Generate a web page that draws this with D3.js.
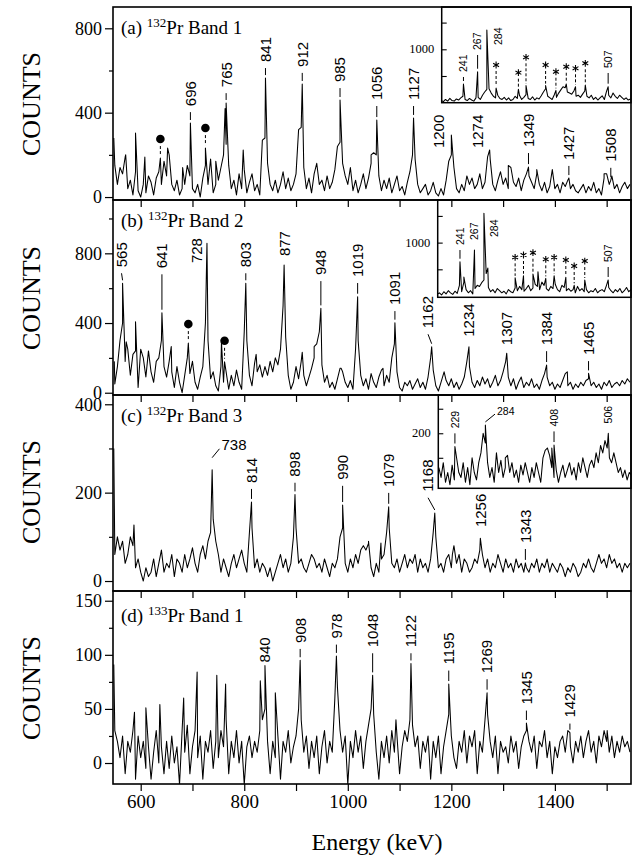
<!DOCTYPE html>
<html>
<head>
<meta charset="utf-8">
<script src="https://cdn.jsdelivr.net/npm/d3@7"></script>
<style>
body { margin: 0; background: #fff; }
</style>
</head>
<body>
<script>
// ---- data ----
var bgStart = 550, bgStep = 5;   // main spectra: one value every 5 keV
var inStart = 200, inStep = 4;   // insets: one value every 4 keV

var panelLetters = ['(a)', '(b)', '(c)', '(d)'];
var massNumbers = ['132', '132', '132', '133'];
var bandNames = ['Band 1', 'Band 2', 'Band 3', 'Band 1'];
var energyTicks = [600, 700, 800, 900, 1000, 1100, 1200, 1300, 1400, 1500];

// background counts, panel (a)
var bgA = [
  150, 60, 140, 110, 190, 40, 80, 10, 120, 30, 0, 60, 20, 100, 70, 10, 90, 120, 60, 170,
  100, 200, 60, 30, 80, 10, 40, 60, 150, 100, 40, 20, 60, 0, 90, 150, 60, 180, 20, 60,
  80, 140, 200, 250, 150, 40, 80, 10, 110, 40, 130, 20, 70, 110, 30, 60, 10, 270, 280, 160,
  60, 30, 80, 20, 60, 120, 40, 90, 30, 60, 110, 320, 330, 140, 40, 90, 20, 110, 160, 60,
  80, 30, 100, 40, 70, 130, 240, 260, 160, 100, 60, 140, 30, 80, 20, 60, 110, 40, 90, 160,
  210, 200, 100, 30, 80, 40, 90, 20, 60, 100, 30, 50, 10, 70, 120, 200, 180, 60, 20, 40,
  60, 10, 30, 70, 20, 5, 40, 10, 80, 170, 200, 140, 40, 20, 60, 30, 100, 60, 90, 40,
  60, 110, 40, 70, 190, 180, 60, 30, 80, 120, 60, 90, 40, 140, 70, 50, 90, 30, 80, 110,
  100, 70, 40, 110, 60, 30, 70, 20, 50, 130, 40, 60, 20, 70, 50, 80, 40, 60, 30, 20,
  40, 60, 20, 50, 30, 70, 20, 40, 10, 90, 110, 60, 100, 40, 60, 20, 50, 70, 40, 60
];
// background counts, panel (b)
var bgB = [
  50, 150, 300, 400, 180, 250, 100, 220, 240, 30, 250, 200, 90, 240, 120, 60, 180, 200, 300, 150,
  90, 180, 120, 30, 150, 60, 0, 100, 200, 110, 180, 60, 20, 90, 150, 400, 300, 80, 120, 40,
  10, 150, 60, 120, 20, 100, 40, 130, 60, 20, 350, 300, 100, 40, 170, 120, 160, 90, 150, 100,
  180, 120, 200, 160, 250, 500, 320, 100, 20, 60, 150, 80, 180, 100, 40, 90, 140, 200, 280, 350,
  160, 60, 100, 30, 60, 20, 80, 140, 120, 60, 30, 70, 20, 250, 300, 100, 40, 80, 20, 110,
  60, 30, 90, 130, 40, 100, 60, 200, 280, 120, 30, 10, 60, 40, 70, 20, 50, 80, 30, 60,
  20, 90, 200, 130, 40, 10, 60, 110, 70, 40, 80, 30, 60, 20, 50, 90, 180, 150, 60, 30,
  70, 40, 90, 50, 80, 30, 60, 100, 40, 70, 120, 180, 90, 40, 80, 20, 60, 90, 30, 60,
  40, 80, 30, 50, 20, 70, 110, 90, 40, 60, 20, 50, 30, 70, 110, 40, 60, 20, 50, 30,
  60, 40, 70, 80, 40, 60, 30, 50, 20, 60, 40, 70, 30, 50, 60, 40, 70, 50, 80, 60
];
// background counts, panel (c)
var bgC = [
  60, 100, 70, 90, 40, 60, 100, 80, 30, 50, 20, 0, 30, 10, 20, 50, 10, 40, 70, 20,
  40, 30, 60, 10, 50, 40, 20, 60, 30, 50, 75, 40, 20, 60, 80, 50, 90, 110, 140, 90,
  60, 20, 50, 30, 10, 40, 60, 30, 50, 70, 40, 20, 110, 120, 30, 50, 20, 40, 30, 10,
  30, 0, 20, 40, 60, 30, 50, 20, 40, 100, 120, 40, 50, 30, 20, 40, 60, 50, 30, 40,
  20, 50, 30, 10, 40, 30, 50, 100, 120, 40, 20, 50, 30, 60, 40, 70, 80, 70, 85, 30,
  10, 40, 20, 50, 60, 110, 120, 40, 30, 50, 20, 40, 60, 30, 50, 40, 60, 20, 50, 30,
  40, 20, 50, 110, 100, 30, 40, 20, 50, 60, 30, 80, 40, 60, 20, 50, 40, 20, 30, 50,
  40, 70, 60, 30, 50, 20, 40, 30, 60, 40, 20, 50, 30, 40, 20, 50, 30, 40, 20, 30,
  20, 40, 30, 50, 20, 40, 30, 50, 20, 40, 30, 20, 40, 30, 10, 30, 20, 40, 30, 10,
  20, 40, 30, 50, 30, 20, 40, 60, 40, 50, 30, 60, 40, 50, 30, 40, 20, 40, 30, 40
];
// background counts, panel (d)
var bgD = [
  30, 20, 5, 25, -10, 20, 10, 30, -15, 25, 5, 20, -5, 15, -15, 10, 30, 0, 15, -10,
  20, -5, 25, 0, 15, -20, 30, 10, 35, -10, 15, 30, 5, 25, -15, 20, 10, 30, -5, 20,
  5, 30, 15, 40, -10, 20, 5, 30, 0, 20, -20, 15, 25, 5, 20, 10, 30, 40, 50, 20,
  -10, 20, 5, 25, -15, 20, 10, 30, 0, 15, 25, 50, 40, 10, 25, -5, 20, 5, 25, -10,
  15, 30, 0, 20, 10, 60, 70, 30, 10, 25, -20, 20, 5, 30, 10, 25, -5, 20, 35, 50,
  45, 10, -15, 20, 5, 25, 0, 30, 10, 25, -10, 15, 30, 20, 40, 35, 15, 25, -5, 20,
  10, 25, -15, 20, 5, 25, -10, 15, 30, 45, 25, 5, -5, 20, 10, 30, 0, 25, 15, 30,
  -10, 20, 10, 40, 45, 20, 5, 25, -10, 20, 10, 15, 0, 25, 10, 20, -5, 15, 25, 30,
  20, 10, 25, -5, 20, 15, 30, 5, 20, -10, 15, 5, 20, 25, 10, 30, 15, 0, 20, 10,
  25, 5, 20, 30, 10, 20, 0, 25, 15, 30, 20, 10, 25, 5, 20, 10, 25, 15, 20, 10
];

// labelled peaks: [energy, peak counts, label energy, label counts]
var peaksA = [[696, 351, 696, 431], [765, 446, 765, 521], [841, 564, 841, 640], [912, 536, 912, 617],
  [985, 460, 985, 545], [1056, 365, 1056, 460], [1127, 375, 1127, 460], [1200, 294, 1175, 232],
  [1274, 223, 1250, 232], [1349, 142, 1349, 237], [1427, 90, 1427, 176], [1508, 80, 1508, 167]];
var peaksB = [[565, 628, 563, 720], [641, 459, 641, 714], [728, 857, 708, 744], [803, 628, 803, 720],
  [877, 733, 877, 784], [948, 484, 948, 675], [1019, 551, 1019, 664], [1091, 402, 1091, 503],
  [1162, 264, 1155, 370], [1234, 264, 1234, 321], [1307, 227, 1307, 273], [1384, 159, 1384, 273],
  [1465, 111, 1465, 216]];
var peaksC = [[814, 179, 814, 222], [898, 196, 898, 236], [990, 172, 990, 229], [1079, 168, 1079, 213],
  [1168, 154, 1155, 202], [1256, 97, 1256, 122], [1343, 41, 1343, 86]];
var peaksD = [[840, 90, 840, 93], [908, 95, 908, 111], [978, 99, 978, 115], [1048, 81, 1048, 107],
  [1122, 92, 1122, 107], [1195, 73, 1195, 91], [1269, 65, 1269, 83], [1345, 37, 1345, 54],
  [1429, 28, 1429, 42]];
// horizontal labels: [energy, peak counts, label energy, label counts]
var flatC = [[738, 252, 756, 297]];

// other visible spikes: [energy, counts]
var spikesA = [[548, 280], [571, 200], [590, 303], [608, 190], [652, 232], [681, 140], [745, 170],
  [763, 420], [798, 223], [1045, 200], [1310, 150], [1365, 130], [1495, 110]];
var spikesB = [[549, 180], [572, 292], [590, 407], [659, 265], [756, 293], [823, 220], [912, 232],
  [935, 264], [987, 141], [1068, 140], [1186, 120], [1424, 120]];
var spikesC = [[548, 300], [587, 127], [1040, 90], [1064, 86], [1202, 60]];
var spikesD = [[548, 91], [588, 47], [610, 51], [637, 54], [683, 60], [709, 84], [747, 81],
  [764, 73], [831, 76], [860, 65], [1093, 40], [1501, 30]];

// filled-circle marks: [energy, mark counts, peak counts]
var dotsA = [[638, 275, 185], [725, 327, 232]];
var dotsB = [[692, 394, 285], [762, 298, 178]];

// inset spectra (low energy part), one value every 4 keV from 200 keV
var inBgA = [
  40, 20, 60, 30, 80, 40, 30, 70, 50, 90,
  120, 60, 40, 80, 50, 30, 90, 100, 60, 140,
  200, 250, 260, 180, 120, 90, 140, 80, 60, 100,
  50, 90, 40, 60, 120, 80, 140, 60, 100, 150,
  80, 60, 110, 50, 90, 70, 130, 200, 260, 120,
  90, 60, 150, 100, 180, 240, 300, 280, 200, 180,
  160, 220, 120, 140, 100, 160, 220, 120, 90, 140,
  60, 100, 50, 90, 130, 60, 210, 140, 90, 180,
  120, 80, 140, 100, 60, 90, 50, 70
];
var inBgB = [
  30, 60, 20, 80, 40, 100, 60, 30, 90, 50,
  200, 80, 260, 120, 60, 100, 40, 140, 200, 180,
  250, 300, 420, 160, 80, 120, 60, 140, 100, 60,
  90, 40, 120, 80, 60, 150, 100, 180, 120, 90,
  140, 200, 100, 150, 220, 180, 120, 260, 200, 140,
  100, 180, 140, 220, 120, 80, 200, 160, 100, 140,
  90, 120, 60, 180, 100, 140, 80, 120, 60, 100,
  80, 140, 60, 100, 120, 80, 200, 160, 100, 60,
  120, 80, 140, 60, 100, 160, 80, 120
];
var inBgC = [
  130, 110, 140, 100, 120, 95, 135, 105, 150, 120,
  110, 140, 100, 130, 95, 150, 120, 105, 140, 160,
  200, 180, 140, 110, 130, 100, 160, 120, 145, 110,
  130, 155, 120, 140, 110, 125, 100, 135, 115, 140,
  120, 100, 130, 110, 140, 120, 100, 150, 165, 170,
  155, 130, 110, 125, 100, 120, 135, 110, 125, 140,
  115, 130, 105, 140, 120, 150, 130, 110, 135, 145,
  130, 160, 140, 175, 160, 185, 170, 150, 140, 160,
  140, 120, 130, 110, 125, 105, 120, 115
];
var inPeaksA = [[241, 350, 241, 575], [267, 580, 267, 987], [284, 1361, 305, 1080], [507, 300, 507, 650]];
var inPeaksB = [[241, 642, 241, 955], [267, 861, 267, 1049], [284, 1549, 303, 1105], [507, 300, 507, 637]];
var inPeaksC = [[229, 173, 229, 210], [408, 176, 408, 214], [506, 200, 506, 220]];
var inFlatC = [[284, 217, 305, 237]];
var inSpikesA = [];
var inSpikesB = [[248, 355], [291, 524], [381, 455]];
var inSpikesC = [[320, 150], [404, 170]];
// asterisk marks: [energy, mark counts, peak counts]
var starsA = [[301, 706, 275], [342, 562, 250], [356, 850, 320], [392, 706, 320],
  [411, 580, 230], [430, 674, 350], [447, 644, 300], [465, 738, 330]];
var starsB = [[340, 724, 340], [355, 768, 380], [372, 811, 412], [395, 687, 330],
  [410, 724, 380], [431, 674, 350], [446, 562, 200], [465, 655, 300]];

// ---- layout ----
var width = 632, height = 859;
var left = 113, right = 631;
var serif = 'Liberation Serif, Times New Roman, serif';
var sans = 'Liberation Sans, Arial, sans-serif';

var panels = [
  {top: 7, bottom: 200, yDomain: [-14, 901], major: [0, 400, 800], minor: [200, 600],
   bg: bgA, peaks: peaksA, flat: [], spikes: spikesA, dots: dotsA, titleY: 34, countsY: 104,
   inset: {l: 441.7, t: 7, b: 102.7, xDomain: [201, 549], yDomain: [0, 1792], ticks: [500, 1000, 1500], label: 1000,
     bg: inBgA, peaks: inPeaksA, flat: [], spikes: inSpikesA, stars: starsA}},
  {top: 200, bottom: 395, yDomain: [-13, 1106], major: [0, 400, 800], minor: [200, 600, 1000],
   bg: bgB, peaks: peaksB, flat: [], spikes: spikesB, dots: dotsB, titleY: 227, countsY: 298,
   inset: {l: 437.7, t: 200, b: 297.3, xDomain: [201, 548], yDomain: [-24, 1798], ticks: [500, 1000, 1500], label: 1000,
     bg: inBgB, peaks: inPeaksB, flat: [], spikes: inSpikesB, stars: starsB}},
  {top: 395, bottom: 591, yDomain: [-22.6, 421], major: [0, 200, 400], minor: [100, 300],
   bg: bgC, peaks: peaksC, flat: flatC, spikes: spikesC, dots: [], titleY: 422, countsY: 492,
   inset: {l: 438.3, t: 395, b: 488.3, xDomain: [199, 547], yDomain: [87.8, 278], ticks: [150, 200, 250], label: 200,
     bg: inBgC, peaks: inPeaksC, flat: inFlatC, spikes: inSpikesC, stars: []}},
  {top: 591, bottom: 784, yDomain: [-19.4, 159], major: [0, 50, 100, 150], minor: [25, 75, 125],
   bg: bgD, peaks: peaksD, flat: [], spikes: spikesD, dots: [], titleY: 622, countsY: 688, inset: null}
];

var svg = d3.select('body').append('svg')
    .attr('width', width)
    .attr('height', height)
    .style('background', '#fff');
var defs = svg.append('defs');

var x = d3.scaleLinear().domain([546.5, 1547]).range([left, right]);

function buildSeries(bg, start, step, peaks, flat, spikes, marks) {
  var pts = bg.map(function(v, i) { return [start + i * step, v]; });
  peaks.concat(flat).forEach(function(p) { pts.push([p[0], p[1]]); });
  spikes.forEach(function(s) { pts.push([s[0], s[1]]); });
  marks.forEach(function(m) { pts.push([m[0], m[2]]); });
  return pts.sort(function(a, b) { return a[0] - b[0]; });
}

function drawSpectrum(g, xs, ys, pts, id, l, r, t, b) {
  defs.append('clipPath').attr('id', id)
    .append('rect').attr('x', l).attr('y', t).attr('width', r - l).attr('height', b - t);
  var line = d3.line().x(function(d) { return xs(d[0]); }).y(function(d) { return ys(d[1]); });
  g.append('path')
    .datum(pts)
    .attr('clip-path', 'url(#' + id + ')')
    .attr('d', line)
    .attr('fill', 'none')
    .attr('stroke', '#000')
    .attr('stroke-width', 1.05)
    .attr('stroke-linejoin', 'round');
}

function drawLabels(g, xs, ys, list, size, gapPeak, gapLabel) {
  list.forEach(function(p) {
    var px = xs(p[0]), py = ys(p[1]), lx = xs(p[2]), ly = ys(p[3]);
    var y1 = py - gapPeak, y2 = ly + gapLabel;
    if (y1 - y2 > 3) {
      g.append('line')
        .attr('x1', px).attr('y1', y1).attr('x2', lx).attr('y2', y2)
        .attr('stroke', '#000').attr('stroke-width', 1);
    }
    g.append('text')
      .attr('transform', 'translate(' + lx + ',' + ly + ') rotate(-90)')
      .attr('dy', '0.36em')
      .attr('font-family', sans)
      .attr('font-size', size)
      .text(p[0]);
  });
}

function drawFlatLabels(g, xs, ys, list, size, gapPeak) {
  list.forEach(function(p) {
    var px = xs(p[0]), py = ys(p[1]), lx = xs(p[2]), ly = ys(p[3]);
    g.append('line')
      .attr('x1', px).attr('y1', py - gapPeak).attr('x2', lx - 2).attr('y2', ly - 1)
      .attr('stroke', '#000').attr('stroke-width', 1);
    g.append('text')
      .attr('x', lx).attr('y', ly)
      .attr('font-family', sans)
      .attr('font-size', size)
      .text(p[0]);
  });
}

// ---- spectra, labels, insets ----
panels.forEach(function(p, i) {
  var y = d3.scaleLinear().domain(p.yDomain).range([p.bottom, p.top]);
  p.y = y;
  var g = svg.append('g');
  var pts = buildSeries(p.bg, bgStart, bgStep, p.peaks, p.flat, p.spikes, p.dots);
  drawSpectrum(g, x, y, pts, 'clip' + i, left, right, p.top, p.bottom);
  drawLabels(g, x, y, p.peaks, 15, 3, 6);
  drawFlatLabels(g, x, y, p.flat, 15, 12);

  p.dots.forEach(function(d) {
    var cx = x(d[0]), cy = y(d[1]), py = y(d[2]);
    g.append('circle').attr('cx', cx).attr('cy', cy).attr('r', 4.3).attr('fill', '#000');
    g.append('line')
      .attr('x1', cx).attr('x2', cx).attr('y1', cy + 7).attr('y2', py - 3)
      .attr('stroke', '#000').attr('stroke-width', 1).attr('stroke-dasharray', '3,2');
  });

  // title
  var t = g.append('text')
    .attr('x', 121).attr('y', p.titleY)
    .attr('font-family', serif).attr('font-size', 19);
  t.append('tspan').text(panelLetters[i] + ' ');
  t.append('tspan').attr('font-size', 13).attr('dy', -7).text(massNumbers[i]);
  t.append('tspan').attr('dy', 7).text('Pr ' + bandNames[i]);

  // y title
  g.append('text')
    .attr('transform', 'translate(31,' + p.countsY + ') rotate(-90)')
    .attr('text-anchor', 'middle')
    .attr('dy', '0.35em')
    .attr('font-family', serif).attr('font-size', 26)
    .text('COUNTS');

  if (p.inset) {
    var s = p.inset;
    var xi = d3.scaleLinear().domain(s.xDomain).range([s.l, right]);
    var yi = d3.scaleLinear().domain(s.yDomain).range([s.b, s.t]);
    var gi = svg.append('g');
    gi.append('rect').attr('x', s.l).attr('y', s.t)
      .attr('width', right - s.l).attr('height', s.b - s.t).attr('fill', '#fff');
    var ipts = buildSeries(s.bg, inStart, inStep, s.peaks, s.flat, s.spikes, s.stars);
    drawSpectrum(gi, xi, yi, ipts, 'iclip' + i, s.l, right, s.t, s.b);
    drawLabels(gi, xi, yi, s.peaks, 10.5, 3, 5);
    drawFlatLabels(gi, xi, yi, s.flat, 10.5, 3);

    s.stars.forEach(function(d) {
      var cx = xi(d[0]), cy = yi(d[1]), py = yi(d[2]);
      if (d3.symbolAsterisk) {
        gi.append('path')
          .attr('transform', 'translate(' + cx + ',' + cy + ')')
          .attr('d', d3.symbol(d3.symbolAsterisk, 32)())
          .attr('fill', 'none').attr('stroke', '#000').attr('stroke-width', 1.1);
      } else {
        gi.append('text').attr('x', cx).attr('y', cy + 6).attr('text-anchor', 'middle')
          .attr('font-family', sans).attr('font-size', 13).text('*');
      }
      gi.append('line')
        .attr('x1', cx).attr('x2', cx).attr('y1', cy + 6).attr('y2', py - 2)
        .attr('stroke', '#000').attr('stroke-width', 1).attr('stroke-dasharray', '3,2');
    });

    gi.append('g')
      .attr('transform', 'translate(' + s.l + ',0)')
      .call(d3.axisRight(yi).tickValues(s.ticks).tickSize(5).tickFormat(''))
      .call(function(a) { a.select('.domain').remove(); a.selectAll('line').attr('stroke-width', 1.1); });
    gi.append('text')
      .attr('x', s.l - 7.5).attr('y', yi(s.label))
      .attr('dy', '0.33em').attr('text-anchor', 'end')
      .attr('font-family', serif).attr('font-size', 12.5)
      .text(s.label);
    gi.append('rect').attr('x', s.l).attr('y', s.t)
      .attr('width', right - s.l).attr('height', s.b - s.t)
      .attr('fill', 'none').attr('stroke', '#000').attr('stroke-width', 1.5);
  }
});

// ---- axes and frames on top ----
panels.forEach(function(p, i) {
  var last = i === panels.length - 1;
  var ga = svg.append('g');

  ga.append('g')
    .attr('transform', 'translate(' + left + ',0)')
    .call(d3.axisLeft(p.y).tickValues(p.major).tickSize(8).tickPadding(3))
    .call(function(a) {
      a.select('.domain').remove();
      a.attr('font-family', serif).attr('font-size', 18);
      a.selectAll('line').attr('stroke-width', 1.2);
    });
  ga.append('g')
    .attr('transform', 'translate(' + left + ',0)')
    .call(d3.axisLeft(p.y).tickValues(p.minor).tickSize(4).tickFormat(''))
    .call(function(a) { a.select('.domain').remove(); a.selectAll('line').attr('stroke-width', 1.2); });

  ga.append('g')
    .attr('transform', 'translate(0,' + p.bottom + ')')
    .call(d3.axisBottom(x).tickValues(energyTicks).tickSize(7).tickPadding(4)
      .tickFormat(function(d) { return last && d % 200 === 0 ? d : ''; }))
    .call(function(a) {
      a.select('.domain').remove();
      a.attr('font-family', serif).attr('font-size', 19);
      a.selectAll('line').attr('stroke-width', 1.2);
    });

  ga.append('rect')
    .attr('x', left).attr('y', p.top)
    .attr('width', right - left).attr('height', p.bottom - p.top)
    .attr('fill', 'none').attr('stroke', '#000').attr('stroke-width', 1.6);
});

svg.append('text')
  .attr('x', 377).attr('y', 850)
  .attr('text-anchor', 'middle')
  .attr('font-family', serif).attr('font-size', 24)
  .text('Energy (keV)');
</script>
</body>
</html>
